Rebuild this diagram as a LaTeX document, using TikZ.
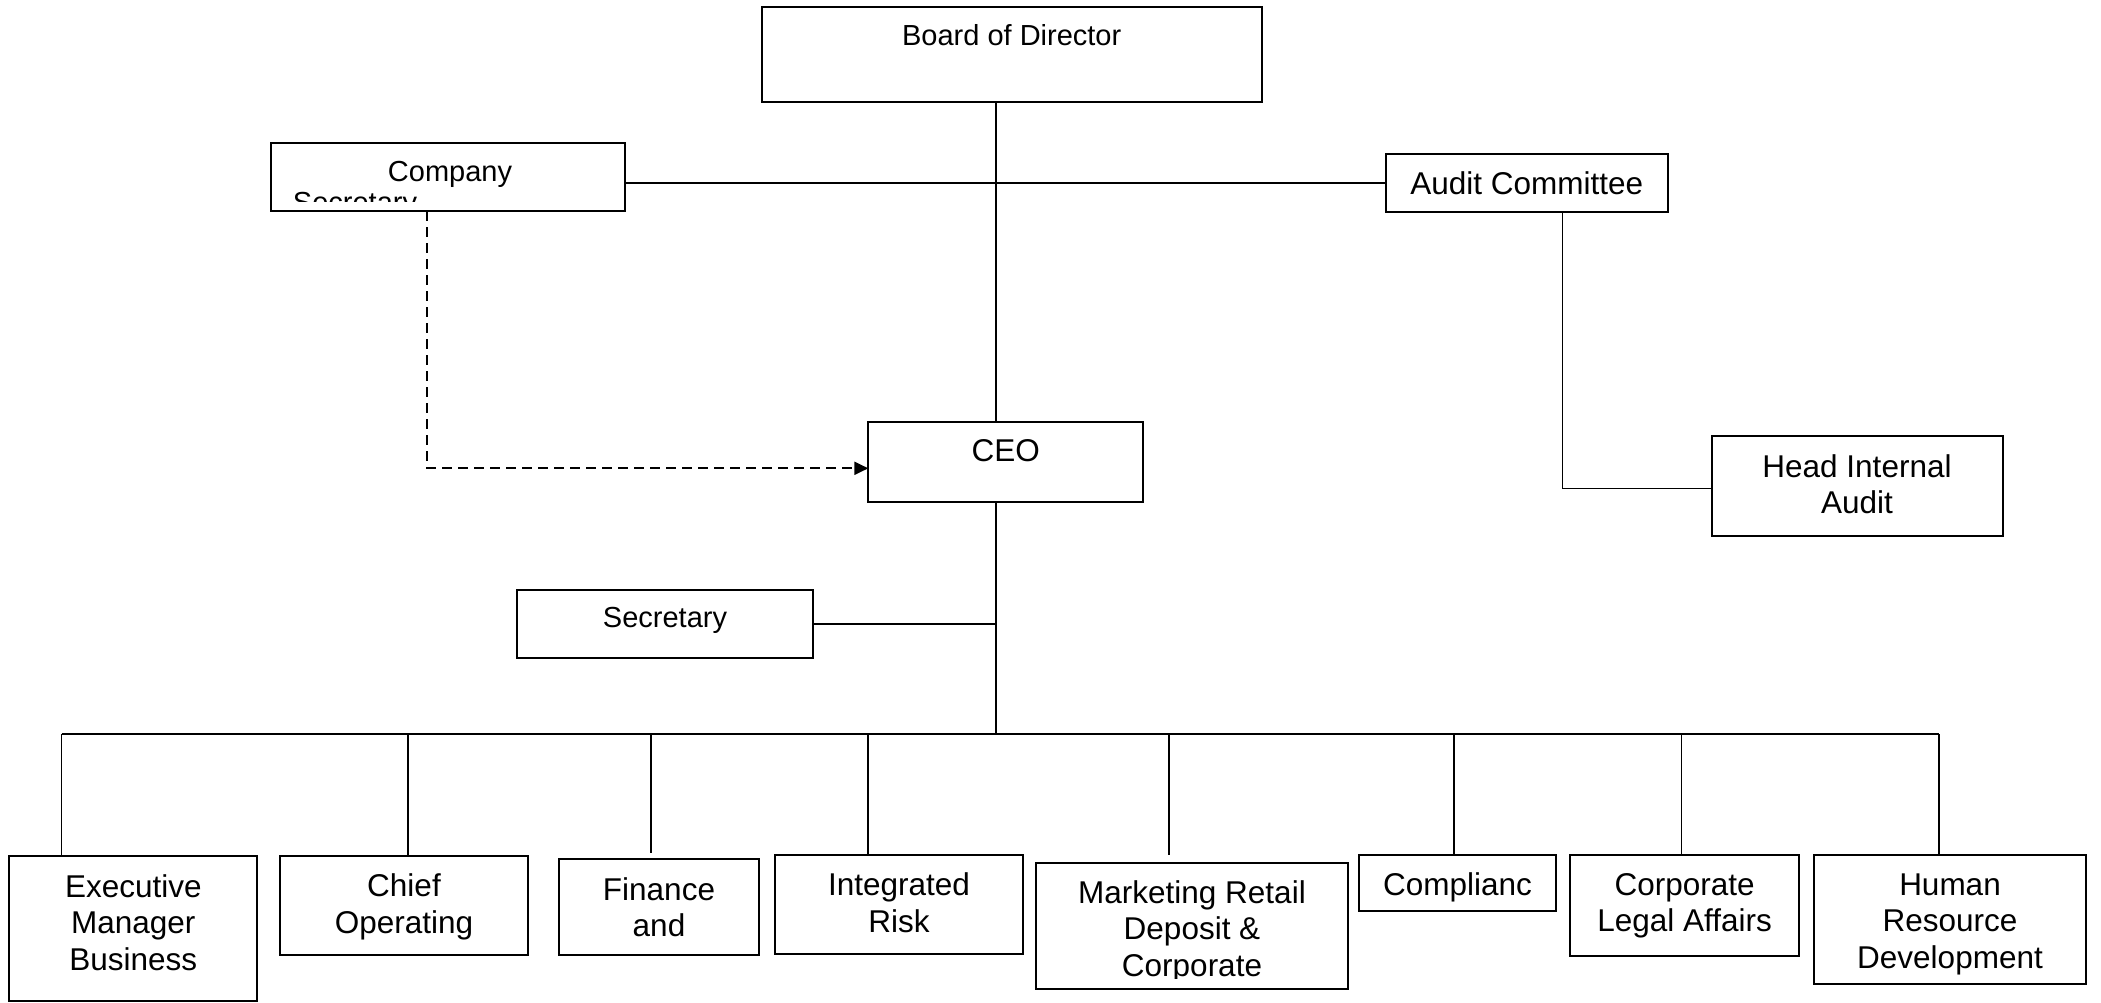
\documentclass[tikz,border=0pt]{standalone}
\usepackage{fontspec}
\setmainfont{Liberation Sans}
\usetikzlibrary{fit,arrows.meta}
\begin{document}
\begin{tikzpicture}[x=1pt,y=-1pt,
  box/.style={draw=black, line width=2pt, inner sep=0pt, outer sep=0pt, rectangle},
  link/.style={draw=black, line width=1.7pt},
  dashlink/.style={link, line width=2pt, dash pattern=on 10pt off 6pt, -{Triangle[length=14pt,width=13pt]}},
  lbl/.style={inner sep=0pt, anchor=base, align=center, font=\fontsize{31.5}{36.5}\selectfont},
  lbls/.style={lbl, font=\fontsize{29}{30.8}\selectfont},
]
\fill[white] (0,0) rectangle (2101,1002);
\useasboundingbox (0,0) rectangle (2101,1002);

% upper tier
\node[box, fit={(762.4,6.7) (1261.5,101.7)}] (board) {};
\node[box, fit={(271,143.3) (625,211)}] (csec) {};
\node[box, fit={(1385.7,154.3) (1667.7,211.7)}] (audit) {};
\node[box, fit={(868.3,421.7) (1143.3,501.7)}] (ceo) {};
\node[box, fit={(1711.7,436) (2002.7,536)}] (hia) {};
\node[box, fit={(516.8,589.6) (812.8,657.8)}] (sec) {};

% departments
\node[box, fit={(9.3,855.7) (257.3,1000.5)}] (exec) {};
\node[box, fit={(280,855.7) (528,955)}] (coo) {};
\node[box, fit={(558.7,859.3) (759.2,955.4)}] (fin) {};
\node[box, fit={(774.5,855) (1023.4,954.3)}] (risk) {};
\node[box, fit={(1036,863.3) (1348.3,989)}] (mkt) {};
\node[box, fit={(1359,855) (1556,911.3)}] (comp) {};
\node[box, fit={(1570,855) (1799,955.7)}] (legal) {};
\node[box, fit={(1814,855) (2086,984)}] (hr) {};

% labels (a multi-line label sits on the baseline of its last line)
\node[lbls] (board-t) at (1011.7,45) {Board of Director};
\begin{scope}
  \clip (271,143.3) rectangle (625,201.7);
  \node[lbls] (csec-t1) at (450,181.7) {Company};
  \node[lbls] (csec-t2) at (355,212.5) {Secretary};
\end{scope}
\node[lbl] (audit-t) at (1526.7,194.3) {Audit Committee};
\node[lbl] (ceo-t) at (1005.8,461.7) {CEO};
\node[lbl] (hia-t) at (1857,513.8) {Head Internal\\Audit};
\node[lbls] (sec-t) at (665,627.3) {Secretary};
\node[lbl] (exec-t) at (133.3,970.3) {Executive\\Manager\\Business};
\node[lbl] (coo-t) at (404,933) {Chief\\Operating};
\node[lbl] (fin-t) at (659,936.5) {Finance\\and};
\node[lbl] (risk-t) at (899,932) {Integrated\\Risk};
\begin{scope}
  \clip (1036,863.3) rectangle (1348.3,978.3);
  \node[lbl] (mkt-t) at (1192,976.3) {Marketing Retail\\Deposit \&\\Corporate};
\end{scope}
\node[lbl] (comp-t) at (1457.5,895) {Complianc};
\node[lbl] (legal-t) at (1684.6,931.5) {Corporate\\Legal Affairs};
\node[lbl] (hr-t) at (1950,968) {Human\\Resource\\Development};

% connectors
\coordinate (spine) at (996,0);
\coordinate (acx) at (1562.5,0);
\coordinate (csx) at (427.3,0);
\coordinate (busL) at (61.5,734.3);
\coordinate (busR) at (1939.3,734.3);
\coordinate (d2) at (407.8,734.3);
\coordinate (d3) at (650.8,734.3);
\coordinate (d4) at (868,734.3);
\coordinate (d5) at (1169.3,734.3);
\coordinate (d6) at (1454.2,734.3);
\coordinate (d7) at (1681.4,734.3);

\draw[link] (spine |- board.south) -- (spine |- ceo.north);
\draw[link] (csec.east |- audit.west) -- (audit.west);
\draw[link] (acx |- audit.south) |- ([yshift=-2.5pt]hia.west);
\draw[dashlink] (csx |- csec.south) |- ([yshift=-6.6pt]ceo.west);
\draw[link] (spine |- ceo.south) -- (spine |- busL);
\draw[link] (sec.east) -- (sec.east -| spine);
\draw[link] (busL) -- (busR);
\draw[link] (busL) -- (busL |- exec.north);
\draw[link] (d2) -- (d2 |- coo.north);
\draw[link, shorten >=6pt] (d3) -- (d3 |- fin.north);
\draw[link] (d4) -- (d4 |- risk.north);
\draw[link, shorten >=8.3pt] (d5) -- (d5 |- mkt.north);
\draw[link] (d6) -- (d6 |- comp.north);
\draw[link] (d7) -- (d7 |- legal.north);
\draw[link] (busR) -- (busR |- hr.north);
\end{tikzpicture}
\end{document}
